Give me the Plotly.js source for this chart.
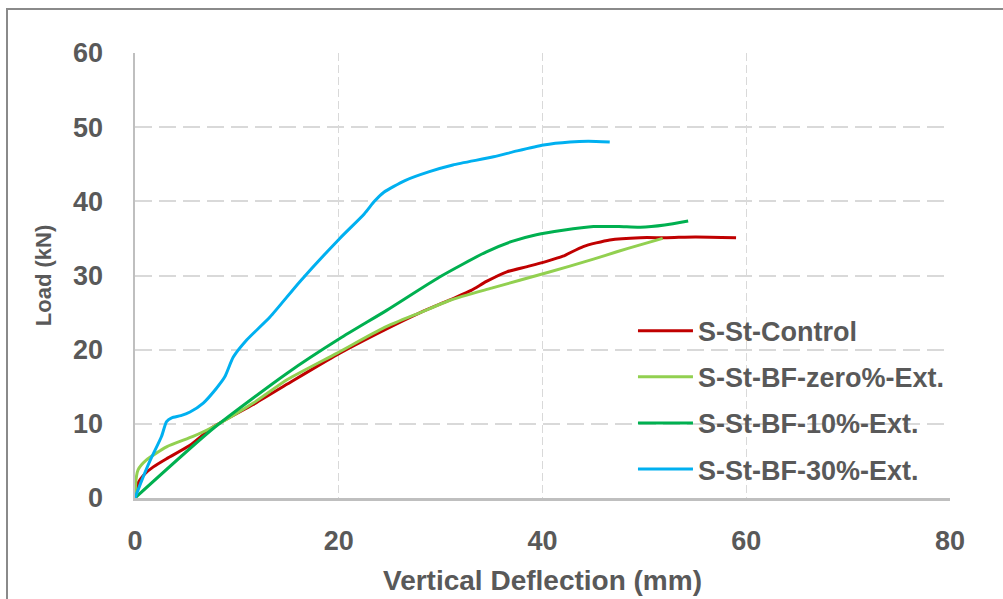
<!DOCTYPE html>
<html>
<head>
<meta charset="utf-8">
<script src="https://cdn.plot.ly/plotly-3.0.1.min.js"></script>
<style>
  html, body { margin: 0; padding: 0; background: #ffffff; overflow: hidden; }
  #wrap { position: relative; width: 1003px; height: 599px; }
  #chart { position: absolute; left: 0; top: 0; width: 1003px; height: 599px; }
  #frame { position: absolute; left: 6px; top: 8px; width: 1100px; height: 700px;
           border-left: 2px solid #8a8a8a; border-top: 2px solid #8a8a8a; pointer-events: none; }
</style>
</head>
<body>
<div id="wrap">
  <div id="chart"></div>
  <div id="frame"></div>
</div>
<script>
// Load–deflection curves (deflection in mm, load in kN)
const controlX = [0, 0.3, 1.0, 1.8, 3.1, 5.4, 7.7, 11.6, 15.0, 19.8, 24.4, 28.0, 30.9, 33.0, 34.5, 36.5, 38.5, 40.4, 42.0, 44.0, 46.6, 49.6, 52.2, 55.0, 59.0];
const controlY = [0, 2.0, 3.3, 4.2, 5.3, 7.1, 9.6, 12.6, 15.4, 19.3, 22.6, 25.0, 26.7, 28.0, 29.2, 30.5, 31.2, 31.9, 32.6, 33.9, 34.8, 35.1, 35.1, 35.2, 35.1];

const zeroX = [0, 0.1, 0.3, 1.1, 3.1, 5.7, 7.7, 11.6, 15.0, 19.8, 24.5, 28.0, 31.0, 35.0, 40.5, 45.0, 47.3, 49.5, 51.8];
const zeroY = [0, 2.5, 3.8, 5.1, 6.9, 8.3, 9.6, 12.8, 16.0, 19.5, 23.0, 25.0, 26.7, 28.3, 30.4, 32.2, 33.2, 34.1, 35.0];

const tenX = [0, 7.7, 14.9, 20.1, 24.7, 29.9, 34.5, 37.0, 39.4, 42.0, 45.0, 47.5, 49.6, 52.0, 54.3];
const tenY = [0, 9.4, 16.8, 21.5, 25.3, 29.8, 33.2, 34.6, 35.5, 36.1, 36.6, 36.6, 36.5, 36.8, 37.35];

const thirtyX = [0, 0.5, 1.5, 2.6, 3.1, 3.6, 4.5, 5.4, 6.7, 8.0, 8.8, 9.65, 10.96, 13.25, 16.2, 20.1, 22.5, 23.5, 24.4, 26.5, 28.9, 31.2, 35.2, 37.5, 40.1, 42.7, 44.5, 46.6];
const thirtyY = [0, 1.8, 5.1, 8.3, 10.3, 10.8, 11.1, 11.6, 12.8, 14.8, 16.3, 19.0, 21.3, 24.4, 29.2, 35.0, 38.3, 40.0, 41.2, 42.8, 44.0, 44.9, 46.0, 46.8, 47.6, 48.0, 48.1, 48.0];

const seriesNames = ['S-St-Control', 'S-St-BF-zero%-Ext.', 'S-St-BF-10%-Ext.', 'S-St-BF-30%-Ext.'];
const seriesColors = ['#c00000', '#92d050', '#00b050', '#00b0f0'];

const xTicks = [0, 20, 40, 60, 80];
const yTicks = [0, 10, 20, 30, 40, 50, 60];

const xs = [controlX, zeroX, tenX, thirtyX];
const ys = [controlY, zeroY, tenY, thirtyY];

const traces = seriesNames.map((name, i) => ({
  type: 'scatter',
  mode: 'lines',
  name: name,
  x: xs[i],
  y: ys[i],
  legendgroup: 'g' + i,
  line: { color: seriesColors[i], width: 3, shape: 'spline', smoothing: 0.6 },
  hoverinfo: 'skip'
}));

const textColor = '#595959';
const fontFamily = '"Liberation Sans", Arial, sans-serif';

const layout = {
  width: 1003,
  height: 599,
  margin: { l: 135, r: 53, t: 53, b: 101 },
  paper_bgcolor: '#ffffff',
  plot_bgcolor: '#ffffff',
  showlegend: true,
  legend: {
    x: 0.611, xanchor: 'left',
    y: 0.43, yanchor: 'top',
    bgcolor: 'rgba(255,255,255,0)',
    traceorder: 'grouped',
    tracegroupgap: 8,
    itemwidth: 55,
    font: { family: fontFamily, size: 27, color: textColor, weight: 'bold' }
  },
  xaxis: {
    range: [0, 80],
    tickvals: xTicks,
    ticktext: xTicks.map(String),
    showgrid: true,
    gridcolor: '#d9d9d9',
    gridwidth: 1,
    griddash: '8px,4px',
    zeroline: false,
    showline: true,
    linecolor: '#bfbfbf',
    linewidth: 2.5,
    ticks: 'outside',
    ticklen: 17,
    tickcolor: 'rgba(0,0,0,0)',
    tickfont: { family: fontFamily, size: 27, color: textColor, weight: 'bold' },
    title: {
      text: 'Vertical Deflection (mm)',
      standoff: 16,
      font: { family: fontFamily, size: 28, color: textColor, weight: 'bold' }
    }
  },
  yaxis: {
    range: [0, 60],
    tickvals: yTicks,
    ticktext: yTicks.map(String),
    showgrid: true,
    gridcolor: '#d9d9d9',
    gridwidth: 2,
    griddash: '17px,7px',
    zeroline: false,
    showline: true,
    linecolor: '#bfbfbf',
    linewidth: 2.5,
    ticks: 'outside',
    ticklen: 24,
    tickcolor: 'rgba(0,0,0,0)',
    tickfont: { family: fontFamily, size: 27, color: textColor, weight: 'bold' },
    title: {
      text: 'Load (kN)',
      standoff: 16,
      font: { family: fontFamily, size: 22, color: textColor, weight: 'bold' }
    }
  }
};

Plotly.newPlot('chart', traces, layout, { displayModeBar: false, staticPlot: true });
</script>
</body>
</html>
